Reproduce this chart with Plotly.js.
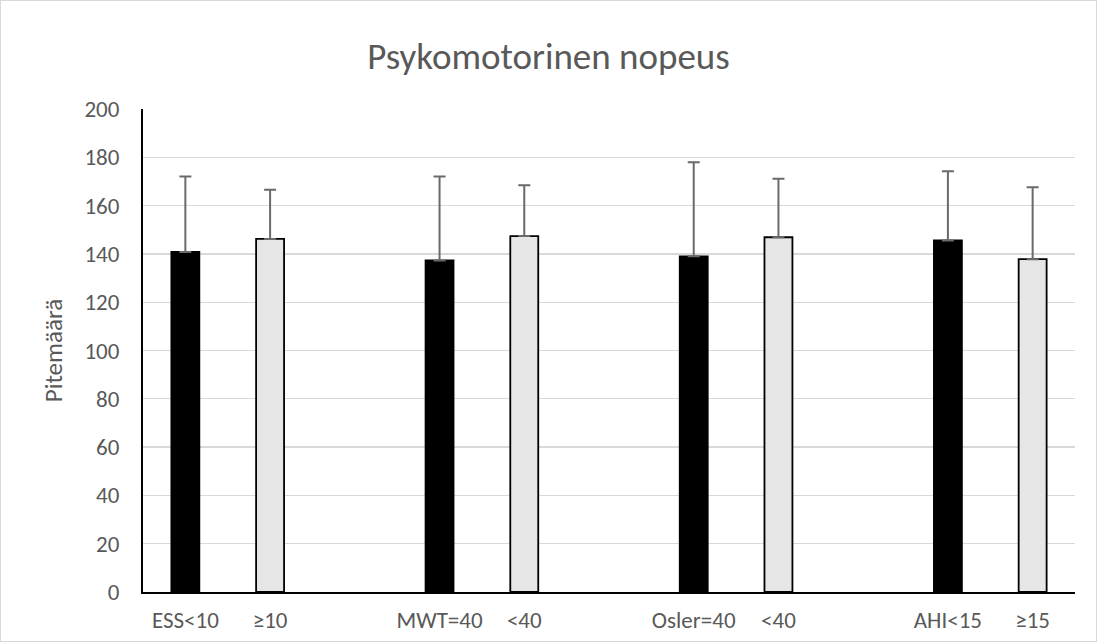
<!DOCTYPE html>
<html><head><meta charset="utf-8">
<script src="https://cdn.plot.ly/plotly-3.0.1.min.js"></script>
<style>body{margin:0;padding:0;background:#fff}#c{width:1095px;height:640px;border:1px solid #d9d9d9}</style>
</head><body><div id="c"></div>
<script>
const categories = ["ESS<10","≥10","","MWT=40","<40","","Osler=40","<40","","AHI<15","≥15"];
const valuesA = [140.8, null, null, 137.3, null, null, 139.0, null, null, 145.6, null];
const errA    = [31.2,  null, null, 34.8,  null, null, 38.9,  null, null, 28.6,  null];
const valuesB = [null, 146.2, null, null, 147.4, null, null, 146.9, null, null, 137.8];
const errB    = [null, 20.4,  null, null, 21.0,  null, null, 24.2,  null, null, 29.8];
const yTicks = [0,20,40,60,80,100,120,140,160,180,200];

const xs = categories.map((_, i) => i);
const tickIdx = xs.filter(i => categories[i] !== "");
const font = 'Carlito, Calibri, "Open Sans", "Liberation Sans", sans-serif';

const traces = [
  {type:'bar', x: xs, y: valuesA, width: 0.33,
   marker:{color:'#000000', line:{color:'#000000', width:1.8}},
   error_y:{type:'data', array: errA, symmetric:false, arrayminus: errA.map(()=>0), color:'#6a6a6a', thickness:2, width:6}},
  {type:'bar', x: xs, y: valuesB, width: 0.33,
   marker:{color:'#e6e6e6', line:{color:'#000000', width:1.8}},
   error_y:{type:'data', array: errB, symmetric:false, arrayminus: errB.map(()=>0), color:'#6a6a6a', thickness:2, width:6}}
];

const layout = {
  width:1095, height:640,
  margin:{l:142, r:21, t:108, b:49},
  paper_bgcolor:'#fff', plot_bgcolor:'#fff',
  barmode:'overlay', showlegend:false,
  title:{text:'Psykomotorinen nopeus', font:{family:font, size:37, color:'#595959'}, x:0.5, xanchor:'center', y:0.914, yanchor:'middle'},
  xaxis:{range:[-0.5,10.5], tickmode:'array', tickvals: tickIdx, ticktext: tickIdx.map(i=>categories[i]),
    showgrid:false, zeroline:false, showline:true, linecolor:'#000', linewidth:2, automargin:false,
    ticks:'', ticklabelstandoff:6, tickfont:{family:font, size:23, color:'#595959'}},
  yaxis:{range:[0,200], tickmode:'array', tickvals:yTicks, ticktext:yTicks.map(String),
    showgrid:true, gridcolor:'#d9d9d9', gridwidth:1.3, zeroline:false, showline:true, linecolor:'#000', linewidth:2, automargin:false,
    ticks:'', ticklabelstandoff:17, tickfont:{family:font, size:23, color:'#595959'},
    title:{text:'Pitemäärä', font:{family:font, size:25, color:'#595959'}, standoff:15}}
};
Plotly.newPlot('c', traces, layout, {displayModeBar:false, staticPlot:true});
</script></body></html>
